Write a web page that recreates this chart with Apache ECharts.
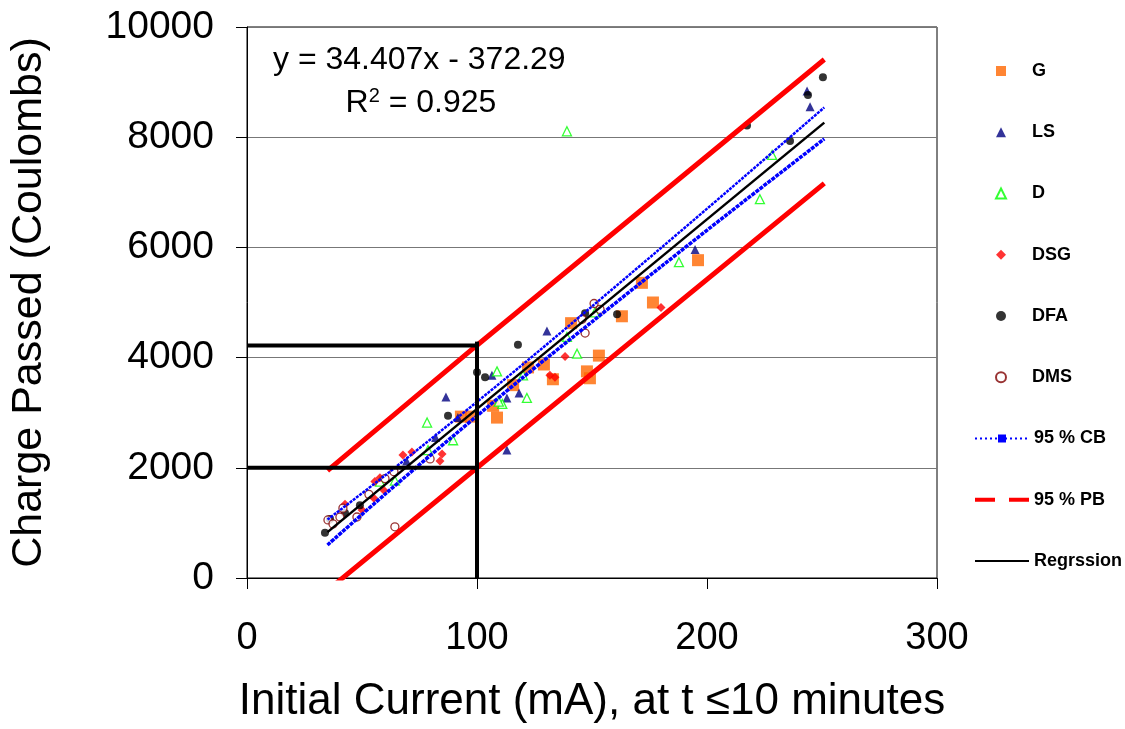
<!DOCTYPE html>
<html><head><meta charset="utf-8">
<script src="https://cdn.jsdelivr.net/npm/echarts@6/dist/echarts.min.js"></script>
<style>html,body{margin:0;padding:0;background:#fff}#c{width:1125px;height:729px}</style>
</head><body><div id="c"></div>
<script>
// ---- data ----
const xTickValues = [0, 100, 200, 300];
const yTickValues = [0, 2000, 4000, 6000, 8000, 10000];
const pointSeriesNames = ['G', 'LS', 'D', 'DSG', 'DFA', 'DMS'];
const lineSeriesNames = ['95 % CB', '95 % PB', 'Regrssion'];

const G = [[93.0,2929],[97.4,2929],[107.0,3125],[108.7,2911],[115.7,3500],[122.2,3821],[129.1,3875],[133.0,3607],[140.9,4625],[147.8,3750],[149.1,3625],[153.0,4036],[163.0,4750],[171.7,5357],[176.5,5000],[196.1,5768]];
const LS = [[86.5,3286],[91.7,2911],[106.5,3679],[113.0,3268],[118.3,3357],[113.0,2321],[130.4,4482],[194.8,5964],[243.5,8839],[244.8,8554],[69.4,2125],[82.0,2550]];
const D = [[108.7,3750],[121.7,3268],[120.0,3679],[111.0,3160],[109.5,3200],[139.1,4375],[143.5,4071],[151.3,4821],[187.8,5732],[139.1,8107],[228.3,7679],[223.0,6875],[78.3,2821],[78.7,2321],[89.6,2500],[57.8,1750],[64.3,1768]];
const DSG = [[55.6,1750],[57.8,1820],[59.6,1589],[55.2,1446],[50.0,1232],[42.6,1339],[67.8,2232],[71.7,2286],[84.8,2250],[83.9,2125],[138.3,4018],[131.7,3679],[133.9,3643],[180.0,4911]];
const DFA = [[33.9,821],[36.1,1071],[42.6,1179],[49.1,1321],[87.4,2946],[100.0,3732],[103.5,3643],[117.8,4232],[147.0,4804],[160.9,4786],[217.4,8214],[236.1,7929],[243.9,8768],[250.4,9089]];
const DMS = [[35.2,1054],[37.4,982],[40.4,1107],[41.7,1268],[47.8,1107],[53.0,1518],[60.0,1804],[63.9,1929],[64.3,929],[79.6,2161],[150.9,4982],[153.5,4875],[147.0,4446],[145.7,4696]];

const regX = [35, 251];
const regY = [832, 8264];
const cbX = [35, 60, 90, 120, 150, 180, 210, 251];
const cbUpper = [1060, 1860, 2860, 3880, 4930, 5990, 7060, 8540];
const cbLower = [600, 1520, 2590, 3640, 4650, 5650, 6640, 7970];
const pbX = [35, 100, 251];
const pbUpper = [1950, 4225, 9411];
const pbLower = [-225, 2000, 7161];

const refTopX = [0, 100], refTopY = [4220, 4220];
const refLowX = [0, 100], refLowY = [2000, 2000];
const refVertX = [100, 100], refVertY = [4290, 0];

const eqLine1 = 'y = 34.407x - 372.29';
const eqR2 = '0.925';

// ---- chart ----
const FONT = 'Liberation Sans, Arial, sans-serif';
const zip = (xs, ys) => xs.map((x, i) => [x, ys[i]]);
const chart = echarts.init(document.getElementById('c'), null, {renderer: 'canvas'});

function scatter(name, data, symbol, size, color, hollow) {
  return {
    name, type: 'scatter', data, symbol, symbolSize: size,
    itemStyle: hollow ? {color: '#fff', borderColor: color, borderWidth: 1.3} : {color: color},
    z: 3, emphasis: {disabled: true}
  };
}
function refLine(data) {
  return {type: 'line', data, symbol: 'none', lineStyle: {color: '#000', width: 4}, z: 5, silent: true};
}
const legendText = {fontSize: 18, fontWeight: 'bold', color: '#000', fontFamily: FONT};
const STEP = 61.25;
const LTOP = 62;

chart.setOption({
  animation: false,
  backgroundColor: '#fff',
  textStyle: {fontFamily: FONT},
  grid: {left: 247, right: 188, top: 27, bottom: 142, show: true, borderColor: '#000', borderWidth: 1},
  xAxis: {
    type: 'value', min: 0, max: 300, interval: 100,
    axisLine: {show: true, onZero: false, lineStyle: {color: '#000', width: 1}},
    axisTick: {show: true, length: 11, lineStyle: {color: '#000'}},
    axisLabel: {fontSize: 38, color: '#000', margin: 42, fontFamily: FONT, formatter: v => String(v)},
    splitLine: {show: false},
    name: 'Initial Current (mA), at t \u226410 minutes', nameLocation: 'middle', nameGap: 102,
    nameTextStyle: {fontSize: 44, color: '#000', fontFamily: FONT}
  },
  yAxis: {
    type: 'value', min: 0, max: 10000, interval: 2000,
    axisLine: {show: true, onZero: false, lineStyle: {color: '#000', width: 1}},
    axisTick: {show: true, length: 11, lineStyle: {color: '#000'}},
    axisLabel: {fontSize: 39, color: '#000', margin: 33, fontFamily: FONT, formatter: v => String(v)},
    splitLine: {show: true, lineStyle: {color: '#777', width: 1}},
    name: 'Charge Passed (Coulombs)', nameLocation: 'middle', nameGap: 196,
    nameTextStyle: {fontSize: 43, color: '#000', fontFamily: FONT}
  },
  legend: [
    {
      orient: 'vertical', left: 995, top: LTOP, padding: 0, itemWidth: 10, itemHeight: 10, itemGap: STEP - 18,
      textStyle: Object.assign({padding: [0, 0, 0, 21]}, legendText),
      data: pointSeriesNames.map(n => ({name: n})),
      selectedMode: false
    },
    {
      orient: 'vertical', left: 973, top: LTOP + 6 * STEP, padding: 0, itemWidth: 54, itemHeight: 10, itemGap: STEP - 18,
      textStyle: legendText,
      data: [
        {name: lineSeriesNames[0], lineStyle: {type: [2, 3], width: 2}},
        {name: lineSeriesNames[1], lineStyle: {type: [20, 14], width: 4}, itemStyle: {opacity: 0}},
        {name: lineSeriesNames[2], lineStyle: {width: 2}, itemStyle: {opacity: 0}}
      ],
      selectedMode: false
    }
  ],
  graphic: [
    {type: 'text', left: 273, top: 44, style: {text: eqLine1, font: '32px ' + FONT, fill: '#000'}},
    {type: 'text', x: 421, y: 120, style: {
      text: '{a|R}{s|2}{a| = ' + eqR2 + '}', align: 'center', verticalAlign: 'bottom',
      rich: {a: {fontSize: 32, fontFamily: FONT, color: '#000'},
             s: {fontSize: 20, fontFamily: FONT, color: '#000', verticalAlign: 'top', padding: [0, 0, 14, 0]}}
    }}
  ],
  series: [
    scatter('G', G, 'rect', 12, '#FF6600', false),
    scatter('LS', LS, 'triangle', 9, '#000080', false),
    scatter('D', D, 'triangle', 9, '#00FF00', true),
    scatter('DSG', DSG, 'diamond', 9, '#FF0000', false),
    scatter('DFA', DFA, 'circle', 8, '#000000', false),
    scatter('DMS', DMS, 'circle', 8, '#800000', true),
    {name: '95 % CB', type: 'line', data: zip(cbX, cbUpper), symbol: 'rect', symbolSize: [7, 4], showSymbol: false,
     smooth: 0.3, lineStyle: {color: '#0000FF', width: 2.5, type: [3, 1]}, itemStyle: {color: '#0000FF'}, z: 4},
    {name: '95 % CB', type: 'line', data: zip(cbX, cbLower), symbol: 'rect', symbolSize: [7, 4], showSymbol: false,
     smooth: 0.3, lineStyle: {color: '#0000FF', width: 3.5, type: [4, 1]}, itemStyle: {color: '#0000FF'}, z: 4},
    {name: '95 % PB', type: 'line', data: zip(pbX, pbUpper), symbol: 'none',
     lineStyle: {color: '#FF0000', width: 5}, itemStyle: {color: '#FF0000'}, z: 4},
    {name: '95 % PB', type: 'line', data: zip(pbX, pbLower), symbol: 'none',
     lineStyle: {color: '#FF0000', width: 5}, itemStyle: {color: '#FF0000'}, z: 4},
    {name: 'Regrssion', type: 'line', data: zip(regX, regY), symbol: 'none',
     lineStyle: {color: '#000', width: 2.5}, itemStyle: {color: '#000'}, z: 4},
    refLine(zip(refTopX, refTopY)),
    refLine(zip(refLowX, refLowY)),
    refLine(zip(refVertX, refVertY))
  ]
});
</script></body></html>
